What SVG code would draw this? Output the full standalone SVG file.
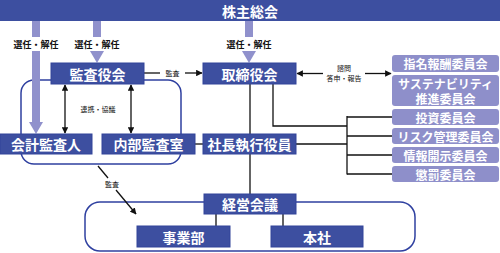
<svg xmlns="http://www.w3.org/2000/svg" width="500" height="253" viewBox="0 0 500 253">
<defs>
<marker id="ah" viewBox="0 0 10 10" refX="9" refY="5" markerWidth="5" markerHeight="5" orient="auto-start-reverse"><path d="M0,0 L10,5 L0,10 z" fill="#111"/></marker>
<style>
.box{fill:#3d4fa0;stroke:#33449a;stroke-width:1}
.com{fill:#8e8fca}
.bt{font-family:"Noto Sans CJK JP","Noto Sans CJK SC",sans-serif;font-size:14px;font-weight:bold;fill:#fff;text-anchor:middle;dominant-baseline:central}
.ct{font-family:"Noto Sans CJK JP","Noto Sans CJK SC",sans-serif;font-size:12px;font-weight:bold;fill:#fff;text-anchor:middle;dominant-baseline:central}
.lb{font-family:"Noto Sans CJK JP","Noto Sans CJK SC",sans-serif;font-size:9px;font-weight:bold;fill:#111;text-anchor:middle;dominant-baseline:central}
.sm{font-family:"Noto Sans CJK JP","Noto Sans CJK SC",sans-serif;font-size:7px;fill:#111;text-anchor:middle;dominant-baseline:central}
.ln{stroke:#111;stroke-width:1.3;fill:none}
.frame{fill:none;stroke:#2f40a0;stroke-width:1.5}
.pa{fill:#9091cc}
</style>
</defs>

<g id="frames">
<rect class="frame" x="21" y="80" width="160" height="84" rx="13"/>
<rect class="frame" x="85" y="202" width="330" height="49" rx="15"/>
</g>

<g id="connectors">
<rect class="pa" x="32" y="21" width="8" height="102"/>
<polygon class="pa" points="29,122 43,122 36,134"/>
<rect class="pa" x="93" y="21" width="8" height="31"/>
<polygon class="pa" points="90,51 104,51 97,63"/>
<rect class="pa" x="245" y="21" width="8" height="31"/>
<polygon class="pa" points="242,51 256,51 249,63"/>
<rect x="12" y="37" width="50" height="14" fill="#fff"/>
<rect x="73" y="37" width="50" height="14" fill="#fff"/>
<rect x="225" y="37" width="50" height="14" fill="#fff"/>
<text class="lb" x="36" y="44">選任・解任</text>
<text class="lb" x="97" y="44">選任・解任</text>
<text class="lb" x="249" y="44">選任・解任</text>

<line class="ln" x1="144" y1="73" x2="160" y2="73"/>
<line class="ln" x1="185" y1="73" x2="202" y2="73" marker-end="url(#ah)"/>
<text class="sm" x="172.5" y="73">監査</text>

<line class="ln" x1="323" y1="73.5" x2="297" y2="73.5" marker-end="url(#ah)"/>
<line class="ln" x1="365" y1="73.5" x2="391" y2="73.5" marker-end="url(#ah)"/>
<text class="sm" x="344" y="68">諮問</text>
<text class="sm" x="344" y="78">答申・報告</text>

<line class="ln" x1="65" y1="85" x2="65" y2="133" marker-start="url(#ah)" marker-end="url(#ah)"/>
<line class="ln" x1="131" y1="85" x2="131" y2="133" marker-start="url(#ah)" marker-end="url(#ah)"/>
<text class="sm" x="98" y="109">連携・協議</text>

<polyline class="ln" points="250,84 250,134"/>
<polyline class="ln" points="273,84 273,126 347,126"/>
<line class="ln" x1="347" y1="116" x2="347" y2="174.5"/>
<line class="ln" x1="347" y1="117" x2="392" y2="117"/>
<line class="ln" x1="347" y1="136" x2="392" y2="136"/>
<line class="ln" x1="347" y1="155" x2="392" y2="155"/>
<line class="ln" x1="347" y1="174" x2="392" y2="174"/>
<line class="ln" x1="296" y1="144" x2="347" y2="144"/>
<line class="ln" x1="195" y1="144" x2="203" y2="144"/>
<line class="ln" x1="250" y1="154" x2="250" y2="194"/>
<line class="ln" x1="216" y1="214" x2="216" y2="226"/>
<line class="ln" x1="283" y1="214" x2="283" y2="226"/>

<line class="ln" x1="98" y1="166" x2="108" y2="178"/>
<line class="ln" x1="116" y1="190" x2="136" y2="214" marker-end="url(#ah)"/>
<text class="sm" x="112" y="184">監査</text>
</g>

<g id="shareholders">
<rect x="0" y="0" width="500" height="21" fill="#3d4fa0"/>
<text class="bt" x="250" y="10.5">株主総会</text>
</g>

<g id="audit-board"><rect class="box" x="51" y="63" width="93" height="21"/><text class="bt" x="97.5" y="73.5">監査役会</text></g>
<g id="board"><rect class="box" x="203" y="63" width="93" height="21"/><text class="bt" x="249.5" y="73.5">取締役会</text></g>
<g id="accounting-auditor"><rect class="box" x="0" y="134" width="92" height="20"/><text class="bt" x="46" y="144">会計監査人</text></g>
<g id="internal-audit"><rect class="box" x="102" y="134" width="93" height="20"/><text class="bt" x="148.5" y="144">内部監査室</text></g>
<g id="president"><rect class="box" x="203" y="134" width="93" height="20"/><text class="bt" x="249.5" y="144">社長執行役員</text></g>
<g id="management-meeting"><rect class="box" x="204" y="194" width="92" height="20"/><text class="bt" x="250" y="204">経営会議</text></g>
<g id="business-div"><rect class="box" x="137" y="226" width="93" height="21"/><text class="bt" x="183.5" y="236.5">事業部</text></g>
<g id="head-office"><rect class="box" x="271" y="226" width="92" height="21"/><text class="bt" x="317" y="236.5">本社</text></g>

<g id="nomination"><rect class="com" x="392" y="55" width="107" height="17" rx="3"/><text class="ct" x="445.5" y="63.5">指名報酬委員会</text></g>
<g id="sustainability"><rect class="com" x="392" y="75" width="107" height="31" rx="3"/><text class="ct" x="445.5" y="83">サステナビリティ</text><text class="ct" x="445.5" y="98.5">推進委員会</text></g>
<g id="investment"><rect class="com" x="392" y="109" width="107" height="16" rx="3"/><text class="ct" x="445.5" y="117">投資委員会</text></g>
<g id="risk"><rect class="com" x="392" y="128" width="107" height="16" rx="3"/><text class="ct" x="445.5" y="136">リスク管理委員会</text></g>
<g id="disclosure"><rect class="com" x="392" y="147" width="107" height="16" rx="3"/><text class="ct" x="445.5" y="155">情報開示委員会</text></g>
<g id="discipline"><rect class="com" x="392" y="166" width="107" height="16" rx="3"/><text class="ct" x="445.5" y="174">懲罰委員会</text></g>
</svg>
